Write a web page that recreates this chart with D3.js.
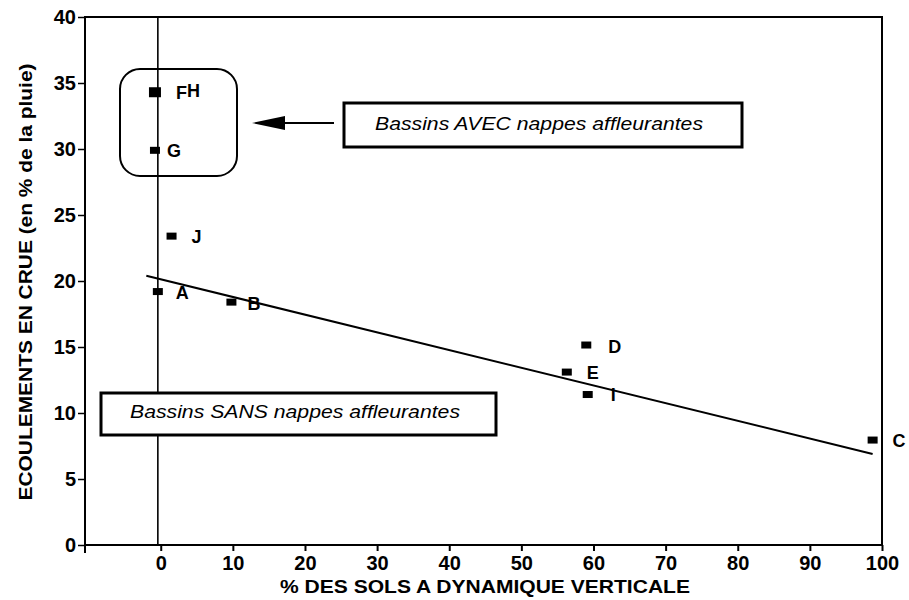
<!DOCTYPE html>
<html><head><meta charset="utf-8">
<script src="https://cdn.jsdelivr.net/npm/d3@7"></script>
<style>body{margin:0;background:#fff}svg{display:block}</style>
</head><body>
<svg id="c" width="909" height="600"></svg>
<script>
// ---- data ----
const pointLabels = ["FH", "G", "J", "A", "B", "D", "E", "I", "C"];
const pctVertical = [-0.8, -0.8, 1.5, -0.4, 9.8, 59.0, 56.3, 59.2, 98.7];
const runoffPct   = [34.3, 29.9, 23.4, 19.2, 18.4, 15.15, 13.1, 11.4, 7.95];
const fitX = [-2, 98.7];
const fitY = [20.4, 6.9];
const xTicks = [0, 10, 20, 30, 40, 50, 60, 70, 80, 90, 100];
const yTicks = [0, 5, 10, 15, 20, 25, 30, 35, 40];
const xTitle = "% DES SOLS A DYNAMIQUE VERTICALE";
const yTitle = "ECOULEMENTS EN CRUE (en % de la pluie)";
const avecText = "Bassins AVEC nappes affleurantes";
const sansText = "Bassins SANS nappes affleurantes";

const svg = d3.select("#c");
const font = "'Liberation Sans', Arial, sans-serif";
const x = d3.scaleLinear().domain([-10.5, 100]).range([85, 882]);
const y = d3.scaleLinear().domain([0, 40]).range([545, 17]);

// frame
svg.append("rect").attr("x", x(-10.5)).attr("y", y(40))
  .attr("width", x(100) - x(-10.5)).attr("height", y(0) - y(40))
  .attr("fill", "none").attr("stroke", "#000").attr("stroke-width", 2);

// axes
const xAxis = svg.append("g").attr("transform", `translate(0,${y(0)})`)
  .call(d3.axisBottom(x).tickValues(xTicks).tickSize(6).tickPadding(5));
xAxis.select(".domain").remove();
xAxis.selectAll("line").attr("stroke-width", 2);
xAxis.selectAll("text").attr("font-family", font).attr("font-size", 20).attr("font-weight", "bold").attr("fill", "#000");
// extra tick at left corner
svg.append("line").attr("x1", x(-10.5)).attr("x2", x(-10.5)).attr("y1", y(0)).attr("y2", y(0) + 8)
  .attr("stroke", "#000").attr("stroke-width", 2);

const yAxis = svg.append("g").attr("transform", `translate(${x(-10.5)},0)`)
  .call(d3.axisLeft(y).tickValues(yTicks).tickSize(7).tickPadding(2));
yAxis.select(".domain").remove();
yAxis.selectAll("line").attr("stroke-width", 1.5);
yAxis.selectAll("text").attr("font-family", font).attr("font-size", 20).attr("font-weight", "bold").attr("fill", "#000");

// vertical zero line
svg.append("line").attr("x1", x(-0.4)).attr("x2", x(-0.4)).attr("y1", y(40)).attr("y2", y(0))
  .attr("stroke", "#000").attr("stroke-width", 1.6);

// regression line
svg.append("line").attr("x1", x(fitX[0])).attr("y1", y(fitY[0]))
  .attr("x2", x(fitX[1])).attr("y2", y(fitY[1]))
  .attr("stroke", "#000").attr("stroke-width", 2);

// points
const pts = pointLabels.map((l, i) => ({l, x: pctVertical[i], y: runoffPct[i]}));
svg.append("g").selectAll("rect").data(pts).join("rect")
  .attr("x", d => x(d.x) - (d.l === "FH" ? 6 : 5))
  .attr("y", d => y(d.y) - (d.l === "FH" ? 5 : 3.5))
  .attr("width", d => d.l === "FH" ? 12 : 10)
  .attr("height", d => d.l === "FH" ? 10 : 7)
  .attr("fill", "#000");

// labels
const off = {FH: [21, 7], G: [12, 7], J: [20, 7], A: [18, 7], B: [16, 8], D: [22, 8], E: [20, 7], I: [23, 6], C: [20, 7]};
const lab = svg.append("g").selectAll("text").data(pts).join("text")
  .attr("x", d => x(d.x) + off[d.l][0])
  .attr("y", d => y(d.y) + off[d.l][1])
  .attr("font-family", font).attr("font-size", 18)
  .attr("font-weight", "bold")
  .attr("fill", "#000");
lab.each(function(d) {
  const t = d3.select(this);
  if (d.l === "FH") {
    t.append("tspan").text("F");
    t.append("tspan").attr("dx", 0).attr("dy", -2).text("H");
  } else t.text(d.l);
});

// rounded box around AVEC group
svg.append("rect").attr("x", 120).attr("y", 69).attr("width", 117).attr("height", 107)
  .attr("rx", 20).attr("ry", 20).attr("fill", "none").attr("stroke", "#000").attr("stroke-width", 2);

// arrow
svg.append("line").attr("x1", 334).attr("y1", 123).attr("x2", 280).attr("y2", 123)
  .attr("stroke", "#000").attr("stroke-width", 2);
svg.append("path").attr("d", "M252,123 L285,116 L285,130 Z").attr("fill", "#000");

// AVEC box
svg.append("rect").attr("x", 344).attr("y", 103).attr("width", 398).attr("height", 44)
  .attr("fill", "#fff").attr("stroke", "#000").attr("stroke-width", 3);
svg.append("text").attr("x", 375).attr("y", 130).attr("font-family", font)
  .attr("font-size", 19).attr("font-style", "italic").attr("textLength", 328)
  .attr("lengthAdjust", "spacingAndGlyphs").text(avecText);

// SANS box
svg.append("rect").attr("x", 101).attr("y", 393).attr("width", 395).attr("height", 42)
  .attr("fill", "#fff").attr("stroke", "#000").attr("stroke-width", 3);
svg.append("text").attr("x", 130).attr("y", 418).attr("font-family", font)
  .attr("font-size", 19).attr("font-style", "italic").attr("textLength", 330)
  .attr("lengthAdjust", "spacingAndGlyphs").text(sansText);

// axis titles
svg.append("text").attr("x", 485).attr("y", 593).attr("text-anchor", "middle")
  .attr("font-family", font).attr("font-size", 19).attr("font-weight", "bold")
  .attr("textLength", 410).attr("lengthAdjust", "spacingAndGlyphs").text(xTitle);
svg.append("text").attr("transform", "translate(32,282) rotate(-90)").attr("text-anchor", "middle")
  .attr("font-family", font).attr("font-size", 18).attr("font-weight", "bold")
  .attr("textLength", 437).attr("lengthAdjust", "spacingAndGlyphs").text(yTitle);
</script>
</body></html>
